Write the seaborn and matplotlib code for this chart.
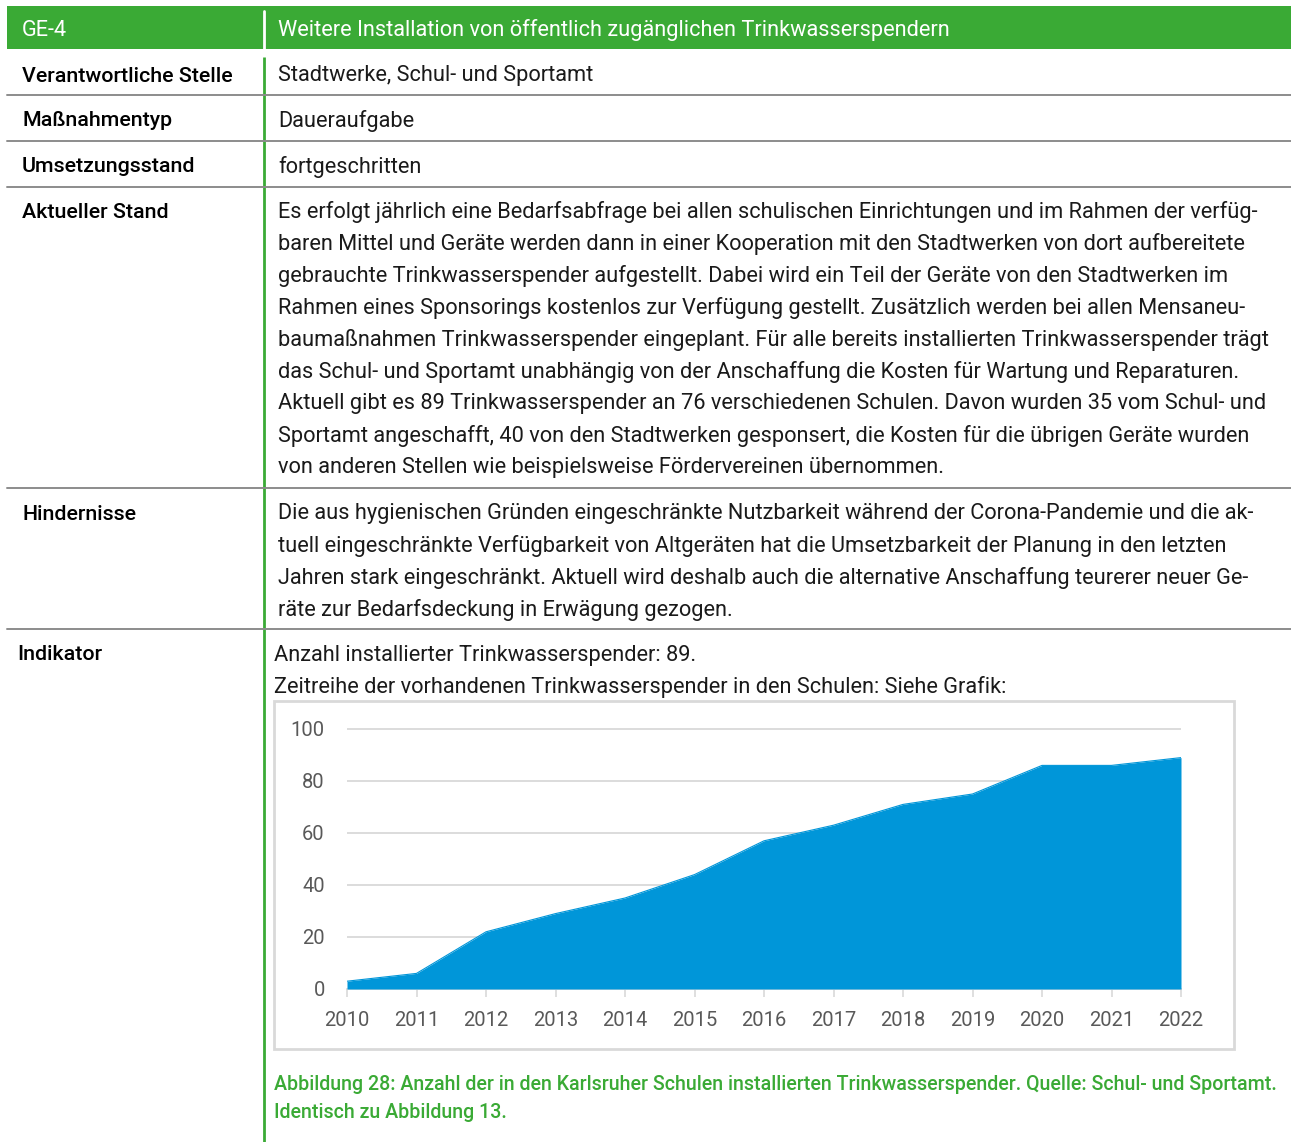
import matplotlib
matplotlib.use("Agg")
import matplotlib.pyplot as plt
import seaborn as sns
import pandas as pd
from matplotlib import font_manager as fm
from matplotlib.patches import Rectangle

# ---------------- data ----------------
years = [2010, 2011, 2012, 2013, 2014, 2015, 2016, 2017, 2018, 2019, 2020, 2021, 2022]
dispensers = [3, 6, 22, 29, 35, 44, 57, 63, 71, 75, 86, 86, 89]
y_ticks = [0, 20, 40, 60, 80, 100]

header_code = "GE-4"
header_title = "Weitere Installation von öffentlich zugänglichen Trinkwasserspendern"
row_labels = ["Verantwortliche Stelle", "Maßnahmentyp", "Umsetzungsstand",
              "Aktueller Stand", "Hindernisse", "Indikator"]
row_values = ["Stadtwerke, Schul- und Sportamt", "Daueraufgabe", "fortgeschritten"]
stand_lines = [
    "Es erfolgt jährlich eine Bedarfsabfrage bei allen schulischen Einrichtungen und im Rahmen der verfüg-",
    "baren Mittel und Geräte werden dann in einer Kooperation mit den Stadtwerken von dort aufbereitete",
    "gebrauchte Trinkwasserspender aufgestellt. Dabei wird ein Teil der Geräte von den Stadtwerken im",
    "Rahmen eines Sponsorings kostenlos zur Verfügung gestellt. Zusätzlich werden bei allen Mensaneu-",
    "baumaßnahmen Trinkwasserspender eingeplant. Für alle bereits installierten Trinkwasserspender trägt",
    "das Schul- und Sportamt unabhängig von der Anschaffung die Kosten für Wartung und Reparaturen.",
    "Aktuell gibt es 89 Trinkwasserspender an 76 verschiedenen Schulen. Davon wurden 35 vom Schul- und",
    "Sportamt angeschafft, 40 von den Stadtwerken gesponsert, die Kosten für die übrigen Geräte wurden",
    "von anderen Stellen wie beispielsweise Fördervereinen übernommen.",
]
hindernisse_lines = [
    "Die aus hygienischen Gründen eingeschränkte Nutzbarkeit während der Corona-Pandemie und die ak-",
    "tuell eingeschränkte Verfügbarkeit von Altgeräten hat die Umsetzbarkeit der Planung in den letzten",
    "Jahren stark eingeschränkt. Aktuell wird deshalb auch die alternative Anschaffung teurerer neuer Ge-",
    "räte zur Bedarfsdeckung in Erwägung gezogen.",
]
indikator_lines = [
    "Anzahl installierter Trinkwasserspender: 89.",
    "Zeitreihe der vorhandenen Trinkwasserspender in den Schulen: Siehe Grafik:",
]
caption_lines = [
    "Abbildung 28: Anzahl der in den Karlsruher Schulen installierten Trinkwasserspender. Quelle: Schul- und Sportamt.",
    "Identisch zu Abbildung 13.",
]

# ---------------- style ----------------
sns.set_theme(style="white")
names = {f.name for f in fm.fontManager.ttflist}
FONT = "Liberation Sans Narrow" if "Liberation Sans Narrow" in names else "Roboto"
plt.rcParams["font.family"] = [FONT, "DejaVu Sans"]

GREEN = "#3aaa35"
BLUE = "#0096d9"
GRID = "#d9d9d9"
TICK = "#595959"
LINE = "#8c8c8c"
LABEL_W = "medium"

W, H = 1291, 1142
fig = plt.figure(figsize=(W / 100, H / 100), dpi=100)
renderer = fig.canvas.get_renderer()


def fit(s, target_px, **kw):
    t = fig.text(0, 0, s, fontsize=10, **kw)
    w = t.get_window_extent(renderer).width
    t.remove()
    return 10 * target_px / w


fs_head = fit(header_title, 673)
fs_label = fit(row_labels[0], 211, fontweight=LABEL_W)
fs_body = fit(stand_lines[0], 984)
fs_cap = fit(caption_lines[0], 1001, fontweight=LABEL_W)
fs_tick = fit("2010", 45)

ax0 = fig.add_axes([0, 0, 1, 1])
ax0.set_xlim(0, W)
ax0.set_ylim(H, 0)
ax0.axis("off")

# header bar
ax0.add_patch(Rectangle((7, 6), W - 7, 43, color=GREEN, lw=0))
ax0.plot([264, 264], [11, 49], color="white", lw=2)
ax0.text(22, 30, header_code, color="white", fontsize=fs_head, va="center")
ax0.text(278, 30, header_title, color="white", fontsize=fs_head, va="center")

# vertical green separator
ax0.plot([264, 264], [57, H], color=GREEN, lw=2, solid_capstyle="butt")

# horizontal row lines
for y in [95, 141, 186.5, 487.5, 629]:
    ax0.plot([7, W], [y, y], color=LINE, lw=1.4)

# labels
label_pos = [(22, 76), (22, 121), (22, 167), (22, 212), (23, 514), (17, 655)]
for (x, y), s in zip(label_pos, row_labels):
    ax0.text(x, y, s, fontsize=fs_label, fontweight=LABEL_W, color="black", va="center")

# simple values
for y, s in zip([76, 121, 167], row_values):
    ax0.text(278, y, s, fontsize=fs_body, color="#1a1a1a", va="center")

for i, s in enumerate(stand_lines):
    ax0.text(278, 212 + 32 * i, s, fontsize=fs_body, color="#1a1a1a", va="center")
for i, s in enumerate(hindernisse_lines):
    ax0.text(278, 514 + 32 * i, s, fontsize=fs_body, color="#1a1a1a", va="center")
for i, s in enumerate(indikator_lines):
    ax0.text(274, 655 + 32 * i, s, fontsize=fs_body, color="#1a1a1a", va="center")
for i, s in enumerate(caption_lines):
    ax0.text(274, 1085 + 28 * i, s, fontsize=fs_cap, fontweight=LABEL_W, color=GREEN, va="center")

# chart frame
ax0.add_patch(Rectangle((273.5, 701), 960, 348, fill=False, edgecolor=GRID, lw=2))

# ---------------- chart ----------------
left, right = 347 / W, 1181 / W
y0_px, y100_px = 989, 729
ytop = 102
top_px = y0_px - (y0_px - y100_px) * ytop / 100
ax = fig.add_axes([left, 1 - y0_px / H, right - left, (y0_px - top_px) / H])
ax.set_facecolor("none")
df = pd.DataFrame({"Jahr": years, "Anzahl": dispensers})
sns.lineplot(data=df, x="Jahr", y="Anzahl", ax=ax, color=BLUE, lw=0.8, zorder=3)
ax.fill_between(df["Jahr"], df["Anzahl"], color=BLUE, lw=0, zorder=3)
ax.set_xlim(years[0], years[-1])
ax.set_ylim(0, ytop)
ax.set_xticks(years)
ax.set_xticklabels([str(y) for y in years])
ax.set_yticks(y_ticks)
ax.set_xlabel("")
ax.set_ylabel("")
ax.grid(axis="y", color=GRID, lw=1.3, zorder=0)
ax.set_axisbelow(True)
for s in ["top", "right", "left"]:
    ax.spines[s].set_visible(False)
ax.spines["bottom"].set_color(GRID)
ax.spines["bottom"].set_linewidth(1.3)
ax.tick_params(axis="x", length=6, width=1.2, color=GRID, direction="out",
               pad=10, labelsize=fs_tick, labelcolor=TICK, bottom=True)
ax.tick_params(axis="y", length=0, pad=16, labelsize=fs_tick, labelcolor=TICK)

fig.savefig("out.png", dpi=100)
